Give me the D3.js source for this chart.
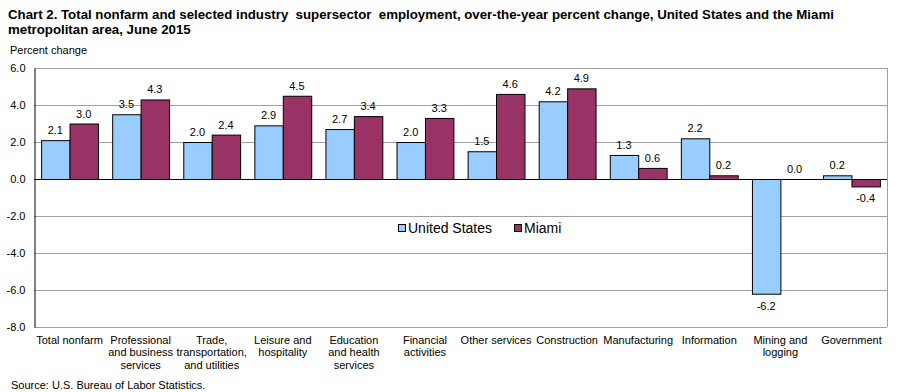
<!DOCTYPE html>
<html><head><meta charset="utf-8">
<script src="https://cdn.jsdelivr.net/npm/d3@7"></script>
<style>body{margin:0;background:#fff}svg{display:block}text{font-family:Arial,"Liberation Sans",sans-serif}</style>
</head><body>
<script>
const categories = [["Total nonfarm"],["Professional","and business","services"],["Trade,","transportation,","and utilities"],["Leisure and","hospitality"],["Education","and health","services"],["Financial","activities"],["Other services"],["Construction"],["Manufacturing"],["Information"],["Mining and","logging"],["Government"]];
const seriesNames = ["United States","Miami"];
const usValues = [2.1,3.5,2.0,2.9,2.7,2.0,1.5,4.2,1.3,2.2,-6.2,0.2];
const miamiValues = [3.0,4.3,2.4,4.5,3.4,3.3,4.6,4.9,0.6,0.2,0.0,-0.4];
const yTicks = [6,4,2,0,-2,-4,-6,-8];
const colors = ["#99CCFF","#993366"];

const W=901,H=392;
const fmt=d=>d3.format(".1f")(d).replace("\u2212","-");
const svg=d3.select("body").append("svg").attr("width",W).attr("height",H);
const m={l:34,r:887,t:68,b:327};
const x=d3.scaleBand().domain(d3.range(categories.length)).range([m.l,m.r]).paddingInner(0.2).paddingOuter(0.1);
const x1=d3.scaleBand().domain([0,1]).range([0,x.bandwidth()]);
const y=d3.scaleLinear().domain([-8,6]).range([m.b,m.t]);

svg.append("text").attr("x",8).attr("y",19).attr("font-size",13.25).attr("font-weight","bold").style("white-space","pre").text("Chart 2. Total nonfarm and selected industry  supersector  employment, over-the-year percent change, United States and the Miami");
svg.append("text").attr("x",8).attr("y",34).attr("font-size",13.25).attr("font-weight","bold").text("metropolitan area, June 2015");
svg.append("text").attr("x",10).attr("y",54).attr("font-size",11).text("Percent change");

// grid
svg.append("g").selectAll("line").data(yTicks.filter(d=>d!==0)).join("line")
 .attr("x1",m.l).attr("x2",m.r).attr("y1",d=>y(d)+0.5).attr("y2",d=>y(d)+0.5).attr("stroke","#a0a0a0").attr("stroke-width",1);
svg.append("line").attr("x1",m.r+0.5).attr("x2",m.r+0.5).attr("y1",m.t).attr("y2",m.b).attr("stroke","#a0a0a0");

// y axis
const ya=svg.append("g").attr("transform",`translate(${m.l+0.5},0)`).call(d3.axisLeft(y).tickValues(yTicks).tickFormat(fmt).tickSize(0).tickPadding(9));
ya.select(".domain").attr("stroke","#000");
ya.selectAll("text").attr("font-size",11).attr("font-family","Arial,'Liberation Sans',sans-serif").attr("fill","#000");

// bars
const series=[usValues,miamiValues];
series.forEach((vals,si)=>{
  svg.append("g").selectAll("rect").data(vals).join("rect")
   .attr("x",(d,i)=>x(i)+x1(si)+0.5).attr("width",x1.bandwidth())
   .attr("y",d=>y(Math.max(0,d))+0.5).attr("height",d=>Math.abs(y(d)-y(0)))
   .attr("fill",colors[si]).attr("stroke","#000").attr("stroke-width",1);
  svg.append("g").selectAll("text").data(vals).join("text")
   .attr("x",(d,i)=>x(i)+x1(si)+x1.bandwidth()/2).attr("text-anchor","middle").attr("font-size",11)
   .attr("y",d=>d<0?y(d)+16:y(d)-6).text(fmt);
});

// zero line
svg.append("line").attr("x1",m.l).attr("x2",m.r).attr("y1",y(0)+0.5).attr("y2",y(0)+0.5).attr("stroke","#000");

// category labels
const cl=svg.append("g").selectAll("text").data(categories).join("text")
 .attr("x",(d,i)=>x(i)+x.bandwidth()/2).attr("y",344).attr("text-anchor","middle").attr("font-size",11);
cl.each(function(d){d3.select(this).selectAll("tspan").data(d).join("tspan").attr("x",d3.select(this).attr("x")).attr("dy",(t,j)=>j?12.3:0).text(t=>t);});

// legend
const lg=svg.append("g");
[[398,0],[514,1]].forEach(([lx,si])=>{
  lg.append("rect").attr("x",lx+0.5).attr("y",224.5).attr("width",7).attr("height",7).attr("fill",colors[si]).attr("stroke","#000");
  lg.append("text").attr("x",lx+10).attr("y",233).attr("font-size",14).text(seriesNames[si]);
});

svg.append("text").attr("x",11).attr("y",389).attr("font-size",11).text("Source: U.S. Bureau of Labor Statistics.");
</script>
</body></html>
